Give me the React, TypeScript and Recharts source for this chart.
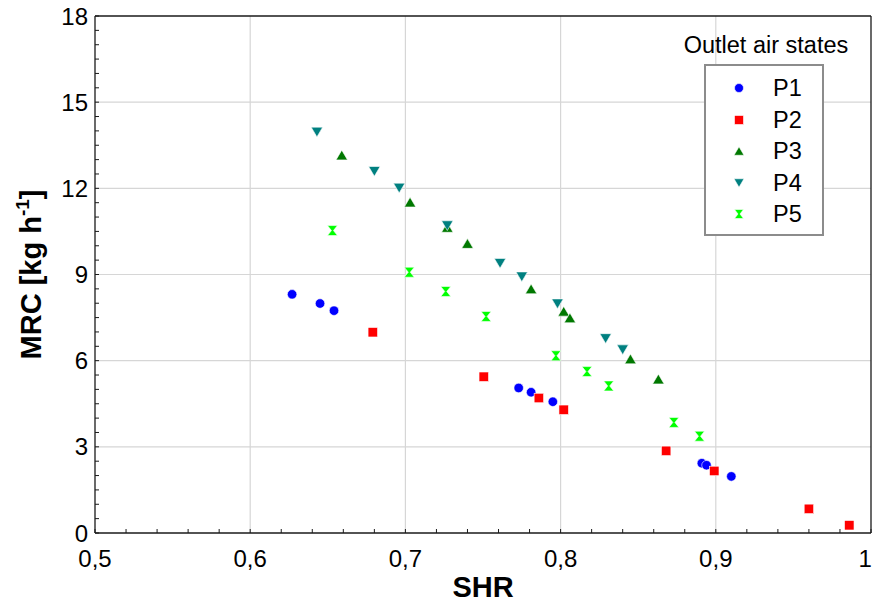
import React from 'react';
import { ScatterChart, Scatter, XAxis, YAxis, CartesianGrid, Legend, Label } from 'recharts';

// ---- data ----
const p1X = [0.627, 0.645, 0.654, 0.773, 0.781, 0.795, 0.891, 0.894, 0.910];
const p1Y = [8.31, 7.99, 7.74, 5.05, 4.90, 4.57, 2.43, 2.36, 1.97];
const p2X = [0.679, 0.7505, 0.786, 0.802, 0.868, 0.899, 0.960, 0.986];
const p2Y = [6.99, 5.44, 4.70, 4.29, 2.86, 2.16, 0.84, 0.27];
const p3X = [0.659, 0.703, 0.727, 0.740, 0.781, 0.802, 0.806, 0.845, 0.863];
const p3Y = [13.16, 11.52, 10.64, 10.08, 8.50, 7.72, 7.49, 6.06, 5.36];
const p4X = [0.643, 0.680, 0.696, 0.727, 0.761, 0.775, 0.798, 0.829, 0.840];
const p4Y = [13.96, 12.59, 12.01, 10.70, 9.39, 8.92, 7.98, 6.77, 6.38];
const p5X = [0.653, 0.7025, 0.726, 0.752, 0.797, 0.817, 0.831, 0.873, 0.8895];
const p5Y = [10.53, 9.08, 8.41, 7.54, 6.17, 5.62, 5.12, 3.85, 3.37];

const seriesNames = ['P1', 'P2', 'P3', 'P4', 'P5'];
const seriesColors = ['#0000ff', '#ff0000', '#007800', '#008080', '#00ff00'];
const seriesShapes = ['circle', 'square', 'up', 'down', 'hourglass'];
const legendTitle = 'Outlet air states';
const xTitle = 'SHR';
const yTitleMain = 'MRC [kg h';
const yTitleSup = '-1';
const yTitleEnd = ']';

const xMajorTicks = [0.5, 0.6, 0.7, 0.8, 0.9, 1];
const yMajorTicks = [0, 3, 6, 9, 12, 15, 18];
const xMinorTicks = Array.from({ length: 26 }, (_, i) => Math.round((0.5 + i * 0.02) * 100) / 100);
const yMinorTicks = Array.from({ length: 37 }, (_, i) => i * 0.5);

const toPoints = (xs: number[], ys: number[]) => xs.map((x, i) => ({ x, y: ys[i] }));
const seriesData = [
  toPoints(p1X, p1Y),
  toPoints(p2X, p2Y),
  toPoints(p3X, p3Y),
  toPoints(p4X, p4Y),
  toPoints(p5X, p5Y),
];

const FONT = '"Liberation Sans", Arial, sans-serif';
const CHART_W = 873;
const CHART_H = 603;

const isMajor = (v: number, list: number[]) => list.some((m) => Math.abs(m - v) < 1e-6);
const fmtX = (v: number) => (isMajor(v, xMajorTicks) ? String(v).replace('.', ',') : '');
const fmtY = (v: number) => (isMajor(v, yMajorTicks) ? String(v) : '');
const blank = () => '';

function XTick(props: any) {
  const label = fmtX(props.payload.value);
  if (!label) return null;
  const half = label.length * 6.7;
  const x = Math.min(props.x, CHART_W - half - 1);
  return (
    <text x={x} y={props.y} dy="0.71em" textAnchor="middle" fontSize={24} fill="#000" fontFamily={FONT}>
      {label}
    </text>
  );
}

function Marker({ kind, cx, cy, color, s }: { kind: string; cx: number; cy: number; color: string; s: number }) {
  const h = s / 2;
  const stroke = '#ffffff';
  const sw = 0.6;
  if (kind === 'circle') return <circle cx={cx} cy={cy} r={h} fill={color} stroke={stroke} strokeWidth={sw} />;
  if (kind === 'square')
    return <rect x={cx - h} y={cy - h} width={s} height={s} fill={color} stroke={stroke} strokeWidth={sw} />;
  if (kind === 'up')
    return (
      <path d={`M${cx - h},${cy + h * 0.85} L${cx + h},${cy + h * 0.85} L${cx},${cy - h * 0.85} Z`} fill={color} stroke={stroke} strokeWidth={sw} />
    );
  if (kind === 'down')
    return (
      <path d={`M${cx - h},${cy - h * 0.85} L${cx + h},${cy - h * 0.85} L${cx},${cy + h * 0.85} Z`} fill={color} stroke={stroke} strokeWidth={sw} />
    );
  return (
    <path
      d={`M${cx - h},${cy - h} L${cx + h},${cy - h} L${cx + 1},${cy} L${cx + h},${cy + h} L${cx - h},${cy + h} L${cx - 1},${cy} Z`}
      fill={color}
      stroke={stroke}
      strokeWidth={sw}
    />
  );
}

const markerSize = (kind: string) => (kind === 'up' || kind === 'down' ? 11.5 : kind === 'hourglass' ? 10 : 9.5);

function LegendBox() {
  return (
    <div style={{ position: 'relative', width: CHART_W, height: 0, fontFamily: FONT }}>
      <div
        style={{
          position: 'absolute',
          left: 766 - 120,
          width: 240,
          top: 32,
          textAlign: 'center',
          fontSize: 23.5,
          lineHeight: '26px',
          color: '#000',
          whiteSpace: 'nowrap',
        }}
      >
        {legendTitle}
      </div>
      <div
        style={{
          position: 'absolute',
          left: 704,
          top: 64,
          width: 116,
          height: 168,
          border: '2px solid #8c8c8c',
          background: '#fff',
        }}
      >
        {seriesNames.map((name, i) => (
          <div key={name} style={{ position: 'absolute', left: 0, top: 7 + i * 31.6, height: 31, width: 116 }}>
            <svg width={20} height={20} style={{ position: 'absolute', left: 23, top: 5 }}>
              <Marker kind={seriesShapes[i]} cx={10} cy={10} color={seriesColors[i]} s={seriesShapes[i] === 'up' || seriesShapes[i] === 'down' ? 10 : 9} />
            </svg>
            <span style={{ position: 'absolute', left: 67, top: 1, fontSize: 23.5, lineHeight: '28px', color: '#000' }}>{name}</span>
          </div>
        ))}
      </div>
    </div>
  );
}

function YTitle(props: any) {
  const vb = props.viewBox || { x: 0, y: 16, width: 95, height: 517 };
  const x = vb.x + 41;
  const y = vb.y + vb.height / 2;
  return (
    <text
      transform={`translate(${x},${y}) rotate(-90)`}
      textAnchor="middle"
      fontFamily={FONT}
      fontWeight="bold"
      fontSize={29}
      fill="#000"
    >
      {yTitleMain}
      <tspan dy={-12} fontSize={19}>
        {yTitleSup}
      </tspan>
      <tspan dy={12}>{yTitleEnd}</tspan>
    </text>
  );
}

export default function App() {
  const tickStyle = { fontSize: 24, fill: '#000', fontFamily: FONT };
  const axisLine = { stroke: '#1a1a1a', strokeWidth: 1.3 };
  const tickLine = { stroke: '#1a1a1a', strokeWidth: 1 };
  return (
    <div style={{ position: 'absolute', left: 0, top: 0, width: CHART_W, height: CHART_H, background: '#fff' }}>
      <ScatterChart width={CHART_W} height={CHART_H} margin={{ top: 15, right: 1, bottom: 0, left: 0 }}>
        <CartesianGrid
          stroke="#d6d6d6"
          strokeWidth={1.2}
          verticalValues={[0.6, 0.7, 0.8, 0.9]}
          horizontalValues={[3, 6, 9, 12, 15]}
        />
        <XAxis
          type="number"
          dataKey="x"
          domain={[0.5, 1]}
          ticks={xMinorTicks}
          interval={0}
          allowDataOverflow
          tickFormatter={fmtX}
          tickSize={-4}
          tickMargin={21}
          height={70}
          axisLine={axisLine}
          tickLine={tickLine}
          tick={<XTick />}
        >
          <Label
            value={xTitle}
            position="insideBottom"
            offset={6}
            style={{ fontSize: 29, fontWeight: 'bold', fill: '#000', fontFamily: FONT }}
          />
        </XAxis>
        <XAxis
          xAxisId="top"
          orientation="top"
          type="number"
          dataKey="x"
          domain={[0.5, 1]}
          ticks={xMinorTicks}
          interval={0}
          tickFormatter={blank}
          tickSize={-4}
          height={1}
          axisLine={axisLine}
          tickLine={tickLine}
        />
        <YAxis
          type="number"
          dataKey="y"
          domain={[0, 18]}
          ticks={yMinorTicks}
          interval={0}
          allowDataOverflow
          tickFormatter={fmtY}
          tickSize={-4}
          tickMargin={11}
          width={95}
          axisLine={axisLine}
          tickLine={tickLine}
          tick={tickStyle}
        >
          <Label content={<YTitle />} />
        </YAxis>
        <YAxis
          yAxisId="right"
          orientation="right"
          type="number"
          dataKey="y"
          domain={[0, 18]}
          ticks={yMinorTicks}
          interval={0}
          tickFormatter={blank}
          tickSize={-4}
          width={1}
          axisLine={axisLine}
          tickLine={tickLine}
        />
        {seriesData.map((data, i) => (
          <Scatter
            key={seriesNames[i]}
            name={seriesNames[i]}
            data={data}
            fill={seriesColors[i]}
            isAnimationActive={false}
            shape={(p: any) => (
              <Marker kind={seriesShapes[i]} cx={p.cx} cy={p.cy} color={seriesColors[i]} s={markerSize(seriesShapes[i])} />
            )}
          />
        ))}
        <Legend
          layout="vertical"
          align="center"
          verticalAlign="middle"
          wrapperStyle={{ position: 'absolute', left: 0, top: 0, width: CHART_W, height: 0 }}
          content={() => <LegendBox />}
        />
      </ScatterChart>
    </div>
  );
}
